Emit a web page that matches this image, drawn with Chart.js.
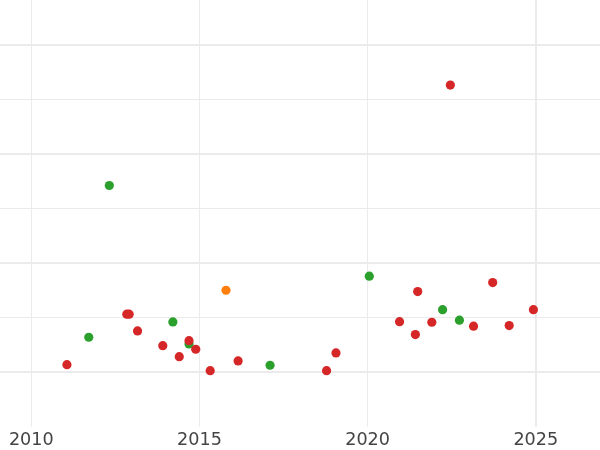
<!DOCTYPE html>
<html>
<head>
<meta charset="utf-8">
<script src="https://cdn.jsdelivr.net/npm/chart.js@4/dist/chart.umd.min.js"></script>
<style>
html,body{margin:0;padding:0;background:#fff;}
#wrap{width:600px;height:450px;position:relative;}
</style>
</head>
<body>
<div id="wrap"><canvas id="c"></canvas></div>
<script>
// Data (x = year, y = value in grid units)
const redX   = [2022.46, 2011.06, 2012.84, 2012.91, 2013.16, 2013.91, 2014.40, 2014.69, 2014.89, 2015.32, 2016.15, 2018.78, 2019.06, 2020.95, 2021.42, 2021.49, 2021.91, 2023.15, 2023.72, 2024.21, 2024.93];
const redY   = [5.27, 0.143, 1.068, 1.068, 0.761, 0.492, 0.290, 0.583, 0.426, 0.033, 0.211, 0.033, 0.358, 0.932, 0.694, 1.483, 0.921, 0.848, 1.648, 0.859, 1.152];
const orangeX = [2015.79];
const orangeY = [1.508];
const greenX = [2012.32, 2011.71, 2014.21, 2014.69, 2017.10, 2020.05, 2022.23, 2022.73];
const greenY = [3.428, 0.646, 0.927, 0.523, 0.132, 1.765, 1.152, 0.958];
const xTicks = [2010, 2015, 2020, 2025];
const yTicks = [0, 1, 2, 3, 4, 5, 6];

const pts = (xs, ys) => xs.map((x, i) => ({x: x, y: ys[i]}));

const ds = (label, xs, ys, color) => ({
  label: label,
  data: pts(xs, ys),
  backgroundColor: color,
  borderWidth: 0,
  pointRadius: 4.6,
  pointHoverRadius: 4.6
});

new Chart(document.getElementById('c'), {
  type: 'scatter',
  data: {
    datasets: [
      ds('red', redX, redY, '#d62728'),
      ds('orange', orangeX, orangeY, '#ff7f0e'),
      ds('green', greenX, greenY, '#2ca02c')
    ]
  },
  options: {
    responsive: true,
    maintainAspectRatio: false,
    animation: false,
    layout: {padding: 0, autoPadding: false},
    plugins: {legend: {display: false}, tooltip: {enabled: false}},
    scales: {
      x: {
        type: 'linear',
        min: 2009.07,
        max: 2026.91,
        afterBuildTicks: (axis) => { axis.ticks = xTicks.map(v => ({value: v})); },
        afterFit: (axis) => { axis.height = 23; },
        border: {display: false},
        grid: {
          color: '#ebebeb',
          lineWidth: (ctx) => (ctx.tick && ctx.tick.value === 2025) ? 2 : 1,
          drawTicks: false
        },
        ticks: {
          color: '#444444',
          font: {family: 'DejaVu Sans', size: 17.6, lineHeight: 1.0},
          padding: 5,
          maxRotation: 0,
          callback: (v) => String(v)
        }
      },
      y: {
        type: 'linear',
        min: -1,
        max: 6.83,
        afterBuildTicks: (axis) => { axis.ticks = yTicks.map(v => ({value: v})); },
        border: {display: false},
        grid: {
          color: '#ebebeb',
          lineWidth: (ctx) => (ctx.tick && ctx.tick.value % 2 === 0) ? 2 : 1,
          drawTicks: false
        },
        ticks: {display: false}
      }
    }
  }
});
</script>
</body>
</html>
